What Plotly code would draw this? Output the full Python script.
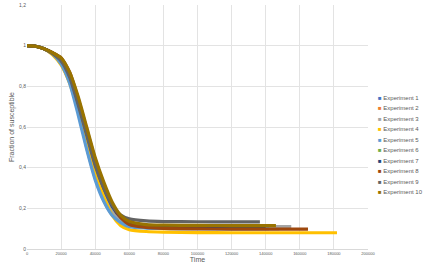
import plotly.graph_objects as go

names = [f"Experiment {i}" for i in range(1, 11)]
colors = ["#4472C4", "#ED7D31", "#A5A5A5", "#FFC000", "#5B9BD5",
          "#70AD47", "#264478", "#9E480E", "#636363", "#997300"]

t_common = [0, 5000, 10000, 15000, 20000, 25000, 30000, 35000, 40000,
            45000, 50000, 55000, 60000, 70000, 80000, 100000, 120000]

exp1 = [1.0, 0.997, 0.985, 0.96, 0.92, 0.835, 0.69, 0.51, 0.36, 0.25, 0.175, 0.135, 0.115, 0.105, 0.103, 0.101, 0.100]
exp2 = [1.0, 0.997, 0.985, 0.96, 0.915, 0.825, 0.68, 0.50, 0.35, 0.24, 0.17, 0.138, 0.12, 0.110, 0.108, 0.106, 0.105]
exp3 = [1.0, 0.997, 0.985, 0.96, 0.92, 0.835, 0.70, 0.52, 0.37, 0.26, 0.185, 0.145, 0.125, 0.115, 0.113, 0.111, 0.110]
exp4 = [1.0, 0.997, 0.985, 0.955, 0.905, 0.815, 0.68, 0.52, 0.38, 0.26, 0.165, 0.115, 0.095, 0.086, 0.083, 0.081, 0.080]
exp5 = [1.0, 0.997, 0.985, 0.96, 0.91, 0.815, 0.66, 0.49, 0.34, 0.235, 0.165, 0.13, 0.11, 0.103, 0.101, 0.100, 0.100]
exp6 = [1.0, 0.997, 0.985, 0.965, 0.935, 0.86, 0.73, 0.58, 0.43, 0.31, 0.215, 0.16, 0.132, 0.118, 0.113, 0.111, 0.110]
exp7 = [1.0, 0.997, 0.985, 0.965, 0.935, 0.855, 0.72, 0.57, 0.42, 0.30, 0.21, 0.155, 0.127, 0.112, 0.108, 0.106, 0.105]
exp8 = [1.0, 0.997, 0.985, 0.965, 0.94, 0.87, 0.74, 0.59, 0.44, 0.32, 0.22, 0.155, 0.12, 0.106, 0.101, 0.099, 0.098]
exp9 = [1.0, 0.997, 0.985, 0.96, 0.925, 0.845, 0.71, 0.56, 0.41, 0.30, 0.215, 0.167, 0.148, 0.138, 0.135, 0.134, 0.133]
exp10 = [1.0, 0.997, 0.985, 0.965, 0.94, 0.87, 0.75, 0.60, 0.45, 0.33, 0.23, 0.165, 0.135, 0.12, 0.117, 0.116, 0.115]

end_times = [148000, 152000, 155000, 181800, 142000, 138000, 140000, 164800, 136600, 146000]
series = [exp1, exp2, exp3, exp4, exp5, exp6, exp7, exp8, exp9, exp10]

y_ticks = [0, 0.2, 0.4, 0.6, 0.8, 1.0, 1.2]
y_tick_labels = ["0", "0,2", "0,4", "0,6", "0,8", "1", "1,2"]
x_ticks = list(range(0, 200001, 20000))

fig = go.Figure()
for name, color, ys, tend in zip(names, colors, series, end_times):
    xs = t_common + [tend]
    yv = ys + [ys[-1]]
    fig.add_trace(go.Scatter(x=xs, y=yv, mode="lines", name=name,
                             line=dict(color=color, width=3.2, shape="spline", smoothing=0.6),
                             showlegend=False))

# Legend drawn as compact annotations (Excel-like marker + label)
leg_top = 98
leg_step = 10.45
for i, (name, color) in enumerate(zip(names, colors)):
    ypx = leg_top + i * leg_step
    fig.add_annotation(
        xref="paper", yref="paper",
        x=(376 - 27) / (368 - 27), y=(249 - ypx) / (249 - 5),
        xanchor="left", yanchor="middle", showarrow=False,
        text=f"<span style='color:{color}'>■</span> {name}",
        font=dict(size=6, color="#595959"),
    )

fig.update_layout(
    width=435, height=272,
    margin=dict(l=27, r=67, t=5, b=23, autoexpand=False),
    paper_bgcolor="white", plot_bgcolor="white",
    font=dict(family="Liberation Sans, Arial", color="#595959", size=6),
    showlegend=False,
)
fig.update_xaxes(range=[0, 200000], tickvals=x_ticks, ticktext=[str(v) for v in x_ticks],
                 showgrid=True, gridcolor="#E3E3E3", gridwidth=1, zeroline=False,
                 showline=True, linecolor="#D9D9D9", tickfont=dict(size=4, color="#595959"),
                 ticklen=0, automargin=False,
                 title=dict(text="Time", font=dict(size=7, color="#595959"), standoff=1))
fig.update_yaxes(range=[0, 1.2], tickvals=y_ticks, ticktext=y_tick_labels,
                 showgrid=True, gridcolor="#E3E3E3", gridwidth=1, zeroline=False,
                 tickfont=dict(size=5, color="#595959"), automargin=False,
                 title=dict(text="Fraction of susceptible", font=dict(size=7, color="#595959"), standoff=3))

fig.write_html("out.html", config={"displayModeBar": False},
               post_script="document.body.style.margin='0';")
